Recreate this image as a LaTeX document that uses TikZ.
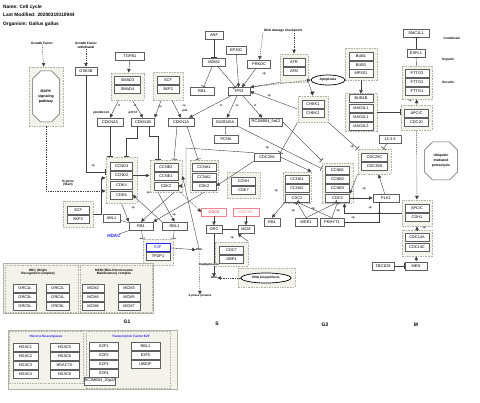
\documentclass[tikz,border=0pt]{standalone}
\usepackage{fontspec}
\setmainfont{Liberation Sans}
\usetikzlibrary{arrows.meta,shapes.misc,shapes.geometric,positioning}
\definecolor{grpfill}{RGB}{243,243,235}
\definecolor{grpline}{RGB}{178,178,166}
\definecolor{boxline}{RGB}{95,95,95}
\definecolor{cdcred}{RGB}{235,35,55}
\definecolor{cdcpink}{RGB}{245,130,140}
\definecolor{hdacblue}{RGB}{35,35,235}
\tikzset{
  gene/.style={draw=boxline, fill=white, line width=0.5pt, minimum height=8, minimum width=24,
    inner sep=0, font=\fontsize{3.9}{4.2}\selectfont},
  grp/.style={draw=grpline, fill=grpfill, dash pattern=on 1.6pt off 1pt, line width=0.9pt, inner sep=0},
  frame/.style={draw=grpline, fill=grpfill, line width=0.5pt, inner sep=0},
  octo/.style={chamfered rectangle, chamfered rectangle xsep=4pt, chamfered rectangle ysep=4pt,
    draw=boxline, fill=white, line width=0.5pt, inner sep=0, align=center,
    font=\fontsize{3.6}{5}\selectfont\bfseries},
  ttl/.style={font=\fontsize{4.8}{5}\selectfont\bfseries, inner sep=0, anchor=west},
  lab/.style={font=\fontsize{3.2}{3.6}\selectfont\bfseries, inner sep=0, align=center},
  sm/.style={font=\fontsize{2.8}{3}\selectfont\bfseries, inner sep=0},
  phase/.style={font=\fontsize{5}{5}\selectfont\bfseries, inner sep=0},
  con/.style={draw=black!75, line width=0.4pt},
  arr/.style={con, -{Triangle[length=3.6pt,width=3.4pt]}},
  inh/.style={con, -{Bar[width=5.5pt,line width=0.6pt]}},
  dasharr/.style={arr, dash pattern=on 1.3pt off 1pt},
  gline/.style={draw=black!40, line width=0.8pt},
}
\begin{document}
\begin{tikzpicture}[x=1pt,y=-1pt]
\fill[white] (0,0) rectangle (480,403);
\useasboundingbox (0,0) rectangle (480,403);

% header
\node[ttl] (ttlname) at (3,7) {Name: Cell cycle};
\node[ttl] (ttlmod) at (3,15) {Last Modified: 20200319110944};
\node[ttl] (ttlorg) at (3,24) {Organism: Gallus gallus};

% groups
\node[grp, minimum width=34, minimum height=59] (gMAPK) at (46,96.5) {};
\node[grp, minimum width=33, minimum height=27] (gSMAD) at (127.5,86.5) {};
\node[grp, minimum width=30, minimum height=28] (gSCFa) at (168,86) {};
\node[grp, minimum width=28, minimum height=28] (gATM) at (294,68) {};
\node[grp, minimum width=30, minimum height=26] (gCHEK) at (313,109) {};
\node[grp, minimum width=32, minimum height=32] (gBUB) at (361,64) {};
\node[grp, minimum width=32, minimum height=38] (gMAD) at (361,112) {};
\node[grp, minimum width=30, minimum height=33] (gPTTG) at (417,82.5) {};
\node[grp, minimum width=31, minimum height=25] (gAPCa) at (416.5,117.5) {};
\node[grp, minimum width=33, minimum height=25] (gCDC25) at (374.5,161.5) {};
\node[grp, minimum width=31, minimum height=40] (gCCNB) at (337.5,183) {};
\node[grp, minimum width=30, minimum height=26] (gAPCb) at (417,213) {};
\node[grp, minimum width=30, minimum height=26] (gCDC14) at (417,243) {};
\node[grp, minimum width=28, minimum height=31] (gCCNAb) at (297,187.5) {};
\node[grp, minimum width=32, minimum height=32] (gCCNE) at (166,176) {};
\node[grp, minimum width=28, minimum height=32] (gCCNAa) at (204,176) {};
\node[grp, minimum width=33, minimum height=26] (gCCNH) at (243.5,185) {};
\node[grp, minimum width=31, minimum height=46] (gCCND) at (121.5,180) {};
\node[grp, minimum width=30, minimum height=26] (gSCFb) at (78,214) {};
\node[grp, minimum width=30, minimum height=26] (gE2F) at (158,252) {};
\node[grp, minimum width=33, minimum height=24] (gCDC7) at (231.5,254) {};
\node[grp, minimum width=57, minimum height=19] (gDNAB) at (266.5,277.5) {};
\node[frame, minimum width=150, minimum height=50] (gREP) at (78,288) {};
\node[grp, minimum width=73, minimum height=47] (gORC) at (41.5,288.5) {};
\node[grp, minimum width=72, minimum height=47] (gMCM) at (116,288.5) {};
\node[frame, minimum width=169, minimum height=59] (gBOT) at (92.5,359.5) {};
\node[grp, minimum width=74, minimum height=52] (gHDAC) at (46,357) {};
\node[grp, minimum width=84, minimum height=57] (gTF) at (128,360) {};

% upper left
\node[lab] (gfac) at (42,43) {Growth Factor};
\node[lab] (gfwd) at (86,45.5) {Growth Factor\\withdrawal};
\node[octo, minimum width=27, minimum height=51] (mapk) at (46,96.5) {MAPK\\signaling\\pathway};
\node[gene, minimum width=22] (gsk3b) at (86,71) {GSK3B};
\node[gene, minimum width=29] (tgfb1) at (130,56) {TGFB1};
\node[gene, minimum width=26] (smad3) at (127.5,80) {SMAD3};
\node[gene, minimum width=26] (smad4) at (127.5,89) {SMAD4};
\node[gene, minimum width=26] (cdkn2a) at (110,122) {CDKN2A};
\node[gene, minimum width=23] (cdkn1b) at (143,122) {CDKN1B};
\node[gene, minimum width=22] (scfa) at (168,80) {SCF};
\node[gene, minimum width=22] (skp2a) at (168,89) {SKP2};
\node[gene, minimum width=26] (cdkn1a) at (181,122) {CDKN1A};
\node[sm] (lbink) at (101,113) {p16,INK4,18};
\node[sm] (lbkip) at (133,113) {p27,57};
\node[sm] (lbp21) at (185,111) {p21};

% upper middle
\node[gene, minimum width=18] (arf) at (214,35) {ARF};
\node[gene, minimum width=23] (mdm2) at (214,62) {MDM2};
\node[gene, minimum width=20] (ep300) at (236,50) {EP300};
\node[gene, minimum width=23] (prkdc) at (259,64) {PRKDC};
\node[lab] (dnachk) at (283,31) {DNA damage checkpoint};
\node[gene, minimum width=22] (atr) at (294,62) {ATR};
\node[gene, minimum width=22] (atm) at (294,71) {ATM};
\node[gene, minimum width=24] (rb1a) at (202,91) {RB1};
\node[gene, minimum width=22] (tp53) at (239,91.5) {TP53};
\node[gene, minimum width=25] (gadd45a) at (225,122) {GADD45A};
\node[gene, minimum width=33] (rcj) at (266,122) {RCJMB04\_5e12};
\node[ellipse, draw=black, line width=0.7pt, fill=white, minimum width=34, minimum height=10, inner sep=0,
  font=\fontsize{3.4}{4}\selectfont\bfseries] (apop) at (328,80) {Apoptosis};
\node[gene, minimum width=22] (chek1) at (313,104) {CHEK1};
\node[gene, minimum width=22] (chek2) at (313,113) {CHEK2};

% upper right
\node[gene] (bub1) at (361,56) {BUB1};
\node[gene] (bub3) at (361,65) {BUB3};
\node[gene] (mps01) at (361,73) {MPS01};
\node[gene] (bub1b) at (361,98) {BUB1B};
\node[gene] (mad1l1) at (361,108) {MAD1L1};
\node[gene] (mad2l1) at (361,117) {MAD2L1};
\node[gene] (mad2l2) at (361,126) {MAD2L2};
\node[gene, minimum width=26] (smc1l1) at (416,33) {SMC1L1};
\node[gene, minimum width=18] (espl1) at (416,53) {ESPL1};
\node[gene] (pttg3) at (417,73) {PTTG3};
\node[gene] (pttg2) at (417,82) {PTTG2};
\node[gene] (pttg1) at (417,91) {PTTG1};
\node[gene] (apcca) at (416.5,113) {APC/C};
\node[gene] (cdc20) at (416.5,122) {CDC20};
\node[lab] (tcond) at (452,38) {Condensin};
\node[lab] (tsep) at (448,60) {Separin};
\node[lab] (tsec) at (448,82) {Securin};
\node[gene, minimum width=22] (p1433) at (390,139) {14-3-3};
\node[gene, minimum width=26] (cdc25c) at (374.5,157) {CDC25C};
\node[gene, minimum width=26] (cdc25b) at (374.5,166) {CDC25B};
\node[octo, minimum width=33, minimum height=38, font=\fontsize{3.4}{5}\selectfont\bfseries] (ubq) at (441,161) {Ubiquitin\\mediated\\proteolysis};
\node[gene] (ccnb1) at (337.5,170) {CCNB1};
\node[gene] (ccnb2) at (337.5,179) {CCNB2};
\node[gene] (ccnb3) at (337.5,188) {CCNB3};
\node[gene] (cdc2b) at (337.5,198) {CDC2};
\node[gene, minimum width=26] (plk1) at (386,198) {PLK1};
\node[gene] (apccb) at (417,208) {APC/C};
\node[gene] (cdh1) at (417,217) {CDH1};
\node[gene] (cdc14a) at (417,237) {CDC14A};
\node[gene] (cdc14c) at (417,247) {CDC14C};
\node[gene, minimum width=22] (men) at (416,266) {MEN};
\node[gene, minimum width=22] (tbc1d8) at (383,266) {TBC1D8};
\node[gene, minimum width=22] (wee1) at (306,222) {WEE1};
\node[gene] (pkmyt1) at (332,222) {PKMYT1};
\node[gene, minimum width=16] (rb1c) at (272,222) {RB1};
\node[gene] (ccna1b) at (297,179) {CCNA1};
\node[gene] (ccna2b) at (297,188) {CCNA2};
\node[gene] (cdc2a) at (297,198) {CDC2};

% middle
\node[gene] (pcna) at (226,139) {PCNA};
\node[gene, minimum width=26] (cdc25a) at (267,157) {CDC25A};
\node[gene] (ccne2) at (166,167) {CCNE2};
\node[gene] (ccne1) at (166,176) {CCNE1};
\node[gene] (cdk2a) at (166,186) {CDK2};
\node[gene] (ccna1a) at (204,167) {CCNA1};
\node[gene] (ccna2a) at (204,177) {CCNA2};
\node[gene] (cdk2b) at (204,186) {CDK2};
\node[gene] (ccnh) at (243.5,181) {CCNH};
\node[gene] (cdk7) at (243.5,190) {CDK7};
\node[gene, minimum width=22] (ccnd3) at (121.5,166) {CCND3};
\node[gene, minimum width=22] (ccnd2) at (121.5,175.5) {CCND2};
\node[gene, minimum width=22] (cdk4) at (121.5,185.5) {CDK4};
\node[gene, minimum width=22] (cdk6) at (121.5,195) {CDK6};
\node[gene, minimum width=22] (scfb) at (78,210) {SCF};
\node[gene, minimum width=22] (skp2b) at (78,219) {SKP2};
\node[lab] (rpoint) at (68,183) {R-point\\(Start)};
\node[gene, minimum width=25, draw=cdcpink, text=cdcred] (cdc6) at (214,212) {CDC6};
\node[gene, minimum width=26, draw=cdcpink, text=cdcpink] (cdc45l) at (246,212) {CDC45L};
\node[gene, minimum width=16] (orc) at (214,229.5) {ORC};
\node[gene, minimum width=16] (mcm) at (246,229.5) {MCM};
\node[gene] (rb1b) at (141,226) {RB1};
\node[gene, minimum width=25] (rbl1) at (174.5,226) {RBL1};
\node[gene, minimum width=17] (abl1) at (111.5,218) {ABL1};
\node[font=\fontsize{4.6}{5}\selectfont\bfseries, text=hdacblue, inner sep=0] (hdac) at (114,236) {HDAC};
\node[gene, draw=hdacblue, text=hdacblue] (e2f) at (158,247) {E2F};
\node[gene] (tfdp1) at (158,256) {TFDP1};
\node[sm] (dnaA) at (199,250) {DNA};
\node[gene] (cdc7) at (231.5,250) {CDC7};
\node[gene] (dbf4) at (231.5,259) {DBF4};
\node[sm, fill=white] (dnarep) at (209,264.5) {DnaReplication};
\node[sm] (dnaB) at (214,278) {DNA};
\node[ellipse, draw=black, line width=0.7pt, fill=white, minimum width=50, minimum height=10, inner sep=0,
  font=\fontsize{3.2}{4}\selectfont\bfseries] (dnabio) at (266,278) {DNA biosynthesis};
\node[sm] (sphase) at (200,296) {S-phase proteins};

% complexes
\node[lab] (torc) at (38,272) {ORC (Origin\\Recognition complex)};
\node[lab] (tmcm) at (114,272) {MCM (Mini-Chromosome\\Maintenance) complex};
\node[gene, minimum width=23] (orc1l) at (25,288) {ORC1L};
\node[gene, minimum width=23] (orc2l) at (58,288) {ORC2L};
\node[gene, minimum width=23] (orc3l) at (25,297) {ORC3L};
\node[gene, minimum width=23] (orc4l) at (58,297) {ORC4L};
\node[gene, minimum width=23] (orc5l) at (25,306) {ORC5L};
\node[gene, minimum width=23] (orc6l) at (58,306) {ORC6L};
\node[gene, minimum width=22] (mcm2) at (93,288) {MCM2};
\node[gene, minimum width=22] (mcm3) at (129,288) {MCM3};
\node[gene, minimum width=22] (mcm4) at (93,297) {MCM4};
\node[gene, minimum width=22] (mcm5) at (129,297) {MCM5};
\node[gene, minimum width=22] (mcm6) at (93,306) {MCM6};
\node[gene, minimum width=22] (mcm7) at (129,306) {MCM7};

% phases
\node[phase] (phG1) at (127,322) {G1};
\node[phase] (phS) at (217,324) {S};
\node[phase] (phG2) at (325,325) {G2};
\node[phase] (phM) at (416,325) {M};

% bottom families
\node[lab, text=hdacblue] (thdac) at (46,337) {Histone Deacetylases};
\node[lab, text=hdacblue] (ttf) at (131,337) {Transcription Factor E2F};
\node[gene, minimum width=25] (hdac1) at (25.5,347) {HDAC1};
\node[gene, minimum width=25] (hdac2) at (25.5,356) {HDAC2};
\node[gene, minimum width=25] (hdac3) at (25.5,365) {HDAC3};
\node[gene, minimum width=25] (hdac4) at (25.5,374) {HDAC4};
\node[gene, minimum width=29] (hdac5) at (64.5,347) {HDAC5};
\node[gene, minimum width=29] (hdac6) at (64.5,356) {HDAC6};
\node[gene, minimum width=29] (hdac7a) at (64.5,365) {HDAC7A};
\node[gene, minimum width=29] (hdac8) at (64.5,374) {HDAC8};
\node[gene, minimum width=29] (e2f1) at (104,346) {E2F1};
\node[gene, minimum width=29] (e2f2) at (104,355) {E2F2};
\node[gene, minimum width=29] (e2f3) at (104,364) {E2F3};
\node[gene, minimum width=29] (e2f4) at (104,373) {E2F4};
\node[gene, minimum width=21] (rcj20) at (100,381) {RCJMB04\_20p22};
\node[gene, minimum width=29] (rbl1f) at (145.5,346) {RBL1};
\node[gene, minimum width=29] (e2f5) at (145.5,355) {E2F5};
\node[gene, minimum width=29] (ube2f) at (145.5,364) {UBE2F};

% connectors, upper left
\draw[dasharr] (gfac) -- (gMAPK);
\draw[dasharr] (gfwd) -- (gsk3b);
\draw[arr] (tgfb1) -- (gSMAD);
\draw[arr] ([xshift=-9]gSMAD.south) -- (cdkn2a.north);
\draw[arr] ([xshift=5]gSMAD.south) -- (cdkn1b.north);
\draw[arr] ([xshift=-7]gSCFa.south) -- (cdkn1b.north east);
\draw[arr] ([xshift=4]gSCFa.south) -- (cdkn1a.north);
\draw[inh] (cdkn2a.south) -- (cdkn2a.south |- gCCND.north);
\draw[gline, inh] ([xshift=-6]cdkn1b.south) -- ++(0,12) -| ([xshift=5]gCCND.north);
\draw[gline, inh] ([xshift=6]cdkn1b.south) -- ++(0,10) -| ([xshift=-8]gCCNE.north);
\draw[inh] ([xshift=-4]cdkn1a.south) -- ([xshift=8]gCCNE.north);
\draw[inh] ([xshift=6]cdkn1a.south) -- ([xshift=-6]gCCNAa.north);
\draw[inh] (gsk3b.south) |- ([yshift=8]gCCND.west);
\draw[dasharr] (gMAPK.south) |- ([yshift=-11]gCCND.west);
\draw[arr] (gSCFb.east) -- ++(8,0) |- ([yshift=2]gCCND.west);
\draw[arr] (ccnd2.east) -- (ccnd2.east -| gCCNE.west);

% connectors, p53 area
\draw[inh] (arf) -- (mdm2);
\draw[inh] (mdm2) -- (rb1a);
\draw[inh] (mdm2) -- (tp53);
\draw[arr] (ep300) -- (tp53);
\draw[arr] (prkdc) -- (tp53);
\draw[dasharr] ([xshift=-20]dnachk.south) -- (prkdc);
\draw[dasharr] ([xshift=11]dnachk.south) -- (gATM);
\draw[arr] (gATM.south west) -- (tp53.north east);
\draw[dasharr] (tp53.north east) -- (apop.west);
\draw[arr] (gATM.south east) -- (gCHEK.north);
\draw[arr] (gCHEK.west) -- (tp53.east);
\draw[arr] (tp53) -- (cdkn1a);
\draw[arr] (tp53) -- (gadd45a);
\draw[arr] (tp53) -- (rcj);
\draw[con] (gadd45a) -- (pcna);
\draw[inh] (gadd45a.south east) -- ([yshift=-6]gCCNB.north west);
\draw[inh] (rcj.east) -- ([yshift=2]gCCNB.north west);
\draw[inh] (gCHEK.south east) -- (gCDC25.north west);
\draw[inh] (gCHEK.south west) -- (cdc25a.north east);

% connectors, mitosis
\draw[arr] (gBUB) -- (bub1b);
\draw[inh] (gMAD.east) -- (gMAD.east -| gAPCa.west);
\draw[arr] (gAPCa) -- (gPTTG);
\draw[inh] (gPTTG) -- (espl1);
\draw[inh] (espl1) -- (smc1l1);
\draw[dasharr] (gAPCa) -- (gAPCb);
\draw[arr] (gCDC14) -- (gAPCb);
\draw[arr] (men) -- (gCDC14);
\draw[inh] (tbc1d8) -- (men);
\draw[inh] (p1433) -- (gCDC25);
\draw[arr] (gCDC25.south west) -- (cdc2b.north east);
\draw[arr] (plk1) -- (gCDC25);
\draw[arr] (cdc2b) -- (plk1);
\draw[arr] (gAPCb.west) -| ([xshift=7]gCCNB.south);
\draw[inh] (pkmyt1.east) -| ([xshift=-7]plk1.south);
\draw[inh] (wee1.north) -- (cdc2b.south);
\draw[inh] (wee1.north) -- (cdc2a.south);
\draw[inh] (pkmyt1.north) -- (cdc2a.south);
\draw[inh] (pkmyt1.north) -- (cdc2b.south);
\draw[arr] (cdc2a.south west) -- (rb1c.north);

% connectors, G1/S
\coordinate (cturn) at (186,148);
\draw[arr] (cdc25a.east) -- (gCCNAb.north east);
\draw[arr] (cdc25a.south west) -- (cdk2b.east);
\draw[gline, arr] (cdc25a.north west) -- (cturn) |- (cdk2a.east);
\draw[arr] ([xshift=8]gCCNE.south) -- (rb1b.north);
\draw[arr] ([xshift=-8]gCCNE.south) -- (rbl1.north);
\draw[arr] (gCCNAa.south) -- (rb1b.north east);
\draw[arr] (gCCND.south) -- (rb1b.north west);
\draw[arr] (rbl1.north west) -- (cdk6.east);
\draw[con] (abl1) -- (rb1b);
\draw[con] (hdac) -- (rb1b);
\draw[inh] (rb1b) -- (gE2F.north west);
\draw[inh] (rbl1) -- (gE2F.north east);
\draw[arr] (e2f) -- (dnaA);
\draw[arr] (dnaA.north) -- (ccne1.east -| gCCNE.east);
\draw[dasharr] (dnaA) -- (sphase);
\draw[dasharr] (cdk2a.south east) -- (cdc6.west);
\draw[arr] (cdc6) -- (orc);
\draw[arr] (cdc45l) -- (mcm);
\draw[con] (orc) -- (mcm);
\draw[arr] (gCDC7.north east) -- (mcm.south west);
\draw[arr] (orc) -- (dnaB);
\node[sm, fill=grpfill] (dnarep2) at (dnarep) {DnaReplication};
\draw[dasharr] (dnabio) -- (dnaB);

% small labels
\node[sm] (lt1) at (119,106) {+t};
\node[sm] (lt2) at (135,106) {+t};
\node[sm] (lu1) at (160,107) {+u};
\node[sm] (lu2) at (184,106) {+u};
\node[sm] (lt3) at (221,106) {+t};
\node[sm] (lt4) at (237,106) {+t};
\node[sm] (lt5) at (255,106) {+t};
\node[sm] (lp1) at (264,74) {+p};
\node[sm] (lp2) at (269,96) {+p};
\node[sm] (lp3) at (313,93) {+p};
\node[sm] (lp4) at (352,147) {+p};
\node[sm] (lp5) at (364,189) {+p};
\node[sm] (lp6) at (370,208) {+p};
\node[sm] (lu3) at (379,214) {+u};
\node[sm] (lp7) at (353,218) {+p};
\node[sm] (lp8) at (313,209) {+p};
\node[sm] (lp9) at (338,211) {+p};
\node[sm] (lp10) at (276,191) {+p};
\node[sm] (lp11) at (293,211) {+p};
\node[sm] (lp12) at (267,148) {+p};
\node[sm] (lp13) at (174,215) {+p};
\node[sm] (lp14) at (148,193) {+p};
\node[sm] (lp15) at (133,208) {+p};
\node[sm] (lp16) at (93,166) {+p};
\node[sm] (lu4) at (410,101) {+u};
\node[sm] (lp17) at (424,228) {+p};
\node[sm] (lp18) at (232,238) {+p};
\end{tikzpicture}
\end{document}
